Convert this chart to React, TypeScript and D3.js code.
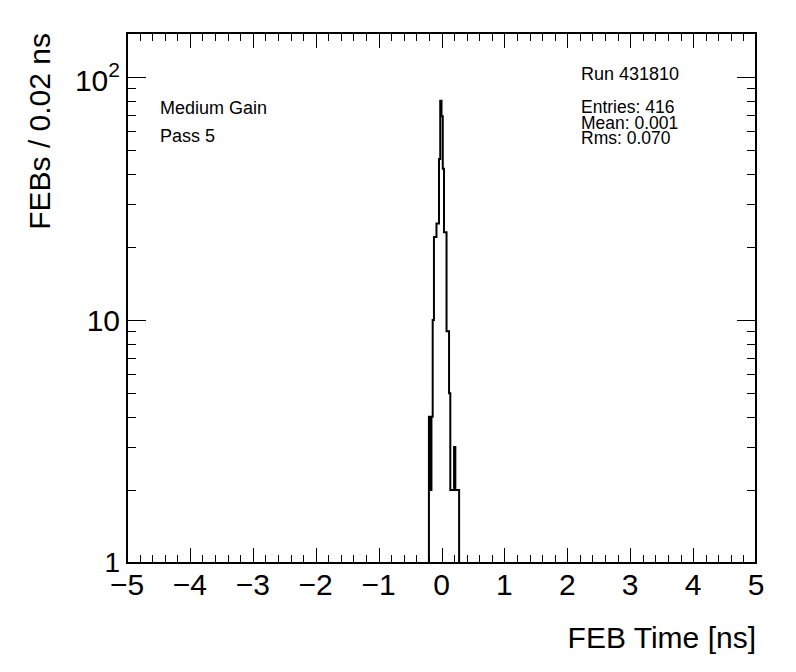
import React, { useRef, useEffect } from 'react';
import * as d3 from 'd3';

// histogram: FEB time, 0.02 ns bins, first bin starts at -0.20 ns
const binStart = -0.2;
const binWidth = 0.02;
const counts = [4, 2, 4, 10, 22, 22, 25, 25, 46, 80, 69, 42, 23, 23, 9, 9, 5, 2, 2, 2, 3, 2, 2, 2];

const xTickValues = [-5, -4, -3, -2, -1, 0, 1, 2, 3, 4, 5];
const yMajorTicks = [1, 10, 100];
const yMinorTicks = [2, 3, 4, 5, 6, 7, 8, 9, 20, 30, 40, 50, 60, 70, 80, 90];

const leftLabels = ['Medium Gain', 'Pass 5'];
const runLabel = 'Run 431810';
const statsLines = ['Entries: 416', 'Mean: 0.001', 'Rms: 0.070'];

const xTitle = 'FEB Time [ns]';
const yTitle = 'FEBs / 0.02 ns';

const W = 796;
const H = 672;
const margin = { top: 33, right: 40, bottom: 109, left: 127 };
const FONT = '"Liberation Sans", Arial, Helvetica, sans-serif';

const App = () => {
  const svgRef = useRef<SVGSVGElement>(null);

  useEffect(() => {
    const svg = d3.select(svgRef.current);
    svg.selectAll('*').remove();

    const x0 = margin.left;
    const x1 = W - margin.right;
    const y0 = H - margin.bottom;
    const y1 = margin.top;

    const xScale = d3.scaleLinear().domain([-5, 5]).range([x0, x1]);
    const yScale = d3.scaleLog().domain([1, 152]).range([y0, y1]);

    // histogram outline (step)
    const pts: [number, number][] = [];
    const yOf = (v: number) => (v <= 1 ? y0 : yScale(v));
    pts.push([xScale(binStart), y0]);
    counts.forEach((c, i) => {
      const a = binStart + i * binWidth;
      pts.push([xScale(a), yOf(c)]);
      pts.push([xScale(a + binWidth), yOf(c)]);
    });
    pts.push([xScale(binStart + counts.length * binWidth), y0]);

    svg
      .append('path')
      .attr('d', d3.line()(pts))
      .attr('fill', 'none')
      .attr('stroke', '#000')
      .attr('stroke-width', 2);

    // x ticks (bottom + top)
    const xMinor = d3.range(-5, 5.0001, 0.2);
    const g = svg.append('g').attr('stroke', '#000').attr('stroke-width', 1);
    xMinor.forEach(t => {
      const isMajor = Math.abs(t - Math.round(t)) < 1e-6;
      const len = isMajor ? 15 : 8;
      const px = Math.round(xScale(t)) + 0.5;
      g.append('line').attr('x1', px).attr('x2', px).attr('y1', y0).attr('y2', y0 - len);
      g.append('line').attr('x1', px).attr('x2', px).attr('y1', y1).attr('y2', y1 + len);
    });

    // y ticks (left + right)
    [...yMajorTicks.map(v => [v, 19]), ...yMinorTicks.map(v => [v, 9])].forEach(([v, len]) => {
      const py = Math.round(yScale(v)) + 0.5;
      g.append('line').attr('x1', x0).attr('x2', x0 + len).attr('y1', py).attr('y2', py);
      g.append('line').attr('x1', x1).attr('x2', x1 - len).attr('y1', py).attr('y2', py);
    });

    // frame
    svg
      .append('rect')
      .attr('x', x0)
      .attr('y', y1)
      .attr('width', x1 - x0)
      .attr('height', y0 - y1)
      .attr('fill', 'none')
      .attr('stroke', '#000')
      .attr('stroke-width', 2);

    const text = svg.append('g').attr('font-family', FONT).attr('fill', '#000');

    // x tick labels
    xTickValues.forEach(t => {
      text
        .append('text')
        .attr('x', xScale(t))
        .attr('y', y0 + 32)
        .attr('text-anchor', 'middle')
        .attr('font-size', 30)
        .text(String(t).replace('-', '\u2212'));
    });

    // y tick labels
    text
      .append('text')
      .attr('x', x0 - 7)
      .attr('y', yScale(1) + 9)
      .attr('text-anchor', 'end')
      .attr('font-size', 28)
      .text('1');
    text
      .append('text')
      .attr('x', x0 - 7)
      .attr('y', yScale(10) + 11)
      .attr('text-anchor', 'end')
      .attr('font-size', 30)
      .text('10');
    const hundred = text
      .append('text')
      .attr('x', x0 - 7)
      .attr('y', yScale(100) + 14)
      .attr('text-anchor', 'end')
      .attr('font-size', 30);
    hundred.append('tspan').text('10');
    hundred.append('tspan').attr('dy', -14).attr('font-size', 21).text('2');

    // axis titles
    text
      .append('text')
      .attr('x', x1)
      .attr('y', y0 + 85)
      .attr('text-anchor', 'end')
      .attr('font-size', 30)
      .text(xTitle);
    text
      .append('text')
      .attr('transform', `translate(50, ${y1}) rotate(-90)`)
      .attr('text-anchor', 'end')
      .attr('font-size', 30)
      .text(yTitle);

    // labels in the pad
    leftLabels.forEach((s, i) => {
      text
        .append('text')
        .attr('x', 160)
        .attr('y', 114 + i * 28)
        .attr('font-size', 18)
        .text(s);
    });
    text.append('text').attr('x', 581).attr('y', 80).attr('font-size', 18).text(runLabel);
    statsLines.forEach((s, i) => {
      text
        .append('text')
        .attr('x', 581)
        .attr('y', 113 + i * 15.5)
        .attr('font-size', 17.5)
        .text(s);
    });
  }, []);

  return (
    <svg
      ref={svgRef}
      width={W}
      height={H}
      style={{ position: 'absolute', left: 0, top: 0, background: '#fff' }}
    />
  );
};

export default App;
